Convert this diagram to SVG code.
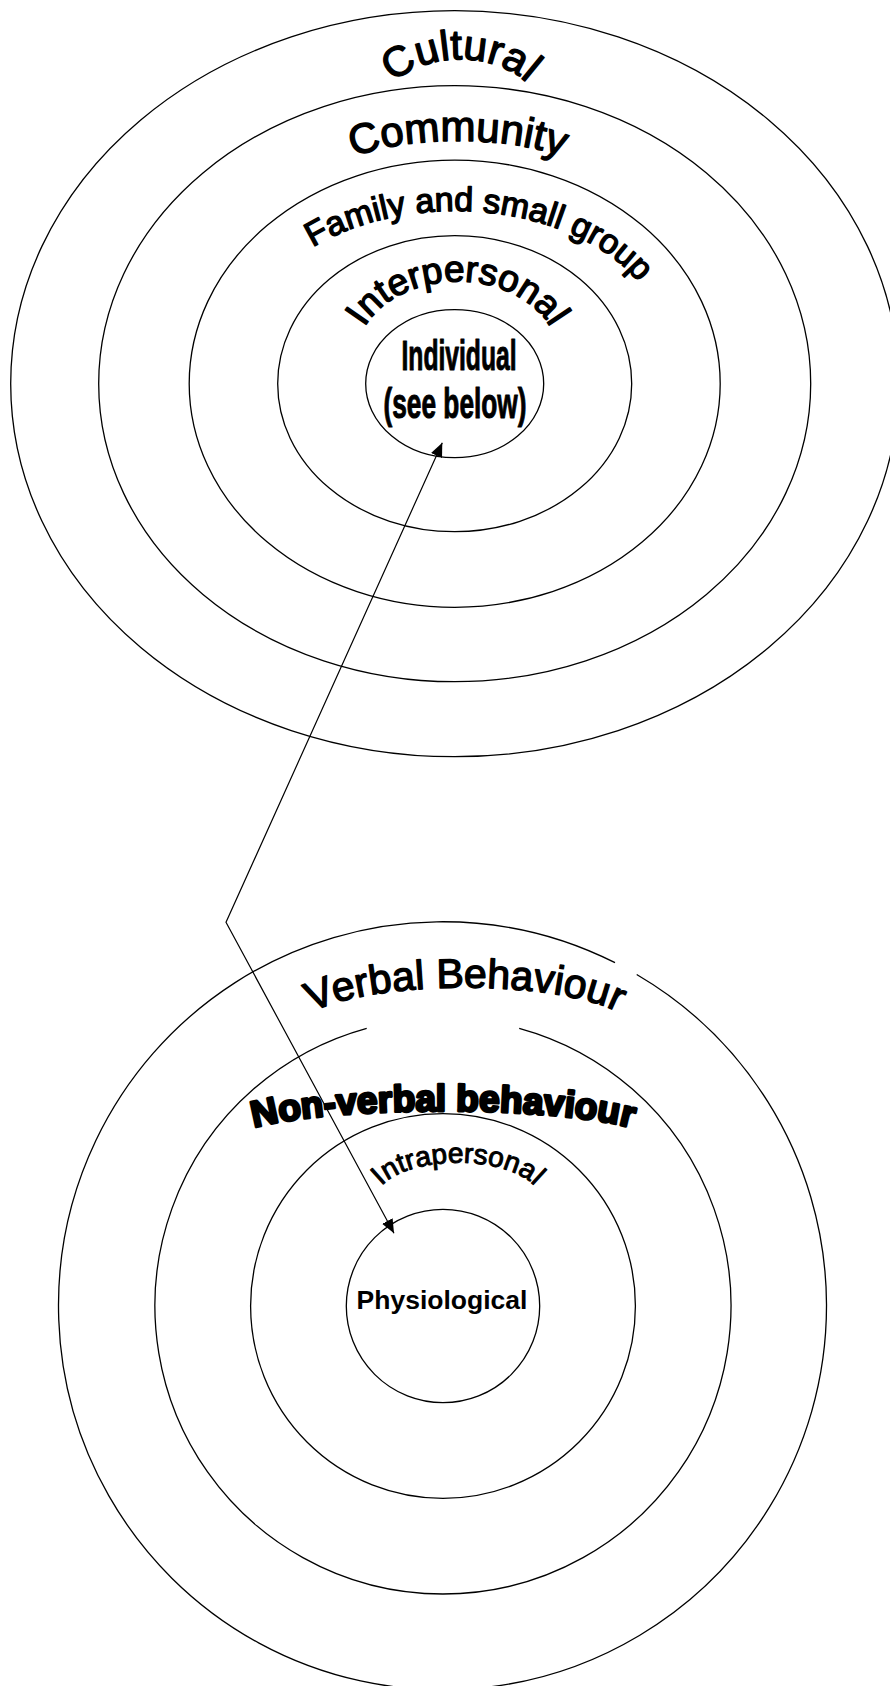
<svg xmlns="http://www.w3.org/2000/svg" width="890" height="1686" viewBox="0 0 890 1686">
  <style>
    .ring { fill: none; stroke: #000; stroke-width: 1.3; }
    .link { fill: none; stroke: #000; stroke-width: 1.2; }
    .arch { font-family: "Liberation Sans", Arial, sans-serif; fill: #000; stroke: #000; stroke-width: 1.4; stroke-linejoin: round; }
    .heavy { font-family: "Liberation Sans", Arial, sans-serif; font-weight: bold; fill: #000; stroke: #000; stroke-width: 2.8; stroke-linejoin: round; }
    .narrow { font-family: "Liberation Sans Narrow", "Liberation Sans", Arial, sans-serif; font-weight: bold; fill: #000; stroke: #000; stroke-width: 1; stroke-linejoin: round; }
    .plain { font-family: "Liberation Sans", Arial, sans-serif; font-weight: bold; fill: #000; }
  </style>
  <defs>
    <!-- baselines for the arched labels -->
    <path id="p-cultural" d="M 386 91 A 84 60 0 0 1 534 91"/>
    <path id="p-community" d="M 333 170 A 130 40 0 0 1 583 170"/>
    <path id="p-family" d="M 287.8 265.7 A 208 135 0 0 1 655 308.8"/>
    <path id="p-interpersonal" d="M 355.6 356 A 102 78 0 0 1 559.4 356"/>
    <path id="p-verbal" d="M 297.6 1026.1 A 168 42 0 0 1 632.4 1026.1"/>
    <path id="p-nonverbal" d="M 232.2 1137.4 A 214 32 0 0 1 653.8 1137.4"/>
    <path id="p-intrapersonal" d="M 375.3 1197.5 A 83 38 0 0 1 540.7 1197.5"/>
    <marker id="arrow" viewBox="0 0 14 12" refX="14" refY="6" markerWidth="14" markerHeight="12" markerUnits="userSpaceOnUse" orient="auto-start-reverse">
      <path d="M 0 0 L 14 6 L 0 12 z" fill="#000"/>
    </marker>
  </defs>

  <rect x="0" y="0" width="890" height="1686" fill="#fff"/>

  <!-- upper set: nested social levels -->
  <g id="cultural">
    <ellipse class="ring" cx="454.7" cy="383.7" rx="444" ry="373"/>
    <text class="arch" font-size="42"><textPath href="#p-cultural" startOffset="50%" text-anchor="middle">Cultural</textPath></text>
  </g>
  <g id="community">
    <ellipse class="ring" cx="454.7" cy="383.7" rx="356" ry="298"/>
    <text class="arch" font-size="42"><textPath href="#p-community" startOffset="50%" text-anchor="middle">Community</textPath></text>
  </g>
  <g id="family">
    <ellipse class="ring" cx="454.7" cy="383.7" rx="265.5" ry="223.6"/>
    <text class="arch" font-size="34"><textPath href="#p-family" startOffset="50%" text-anchor="middle">Family and small group</textPath></text>
  </g>
  <g id="interpersonal">
    <ellipse class="ring" cx="454.7" cy="383.7" rx="177" ry="148"/>
    <text class="arch" font-size="37"><textPath href="#p-interpersonal" startOffset="50%" text-anchor="middle">Interpersonal</textPath></text>
  </g>
  <g id="individual">
    <ellipse class="ring" cx="454.7" cy="383.7" rx="89" ry="74"/>
    <text class="narrow" font-size="42" x="459" y="370" text-anchor="middle" textLength="115" lengthAdjust="spacingAndGlyphs">Individual</text>
    <text class="narrow" font-size="42" x="455" y="418" text-anchor="middle" textLength="143" lengthAdjust="spacingAndGlyphs">(see below)</text>
  </g>

  <!-- lower set: levels within the individual -->
  <g id="verbal">
    <path class="ring" d="M 636.7 974.5 A 384 384 0 1 1 615 962.7"/>
    <text class="arch" font-size="41"><textPath href="#p-verbal" startOffset="50%" text-anchor="middle">Verbal Behaviour</textPath></text>
  </g>
  <g id="nonverbal">
    <path class="ring" d="M 519.2 1028.3 A 288 288 0 1 1 366.7 1028.3"/>
    <text class="heavy" font-size="37"><textPath href="#p-nonverbal" startOffset="50%" text-anchor="middle">Non-verbal behaviour</textPath></text>
  </g>
  <g id="intrapersonal">
    <circle class="ring" cx="443" cy="1306" r="192.4"/>
    <text class="arch" font-size="28" style="stroke-width:1"><textPath href="#p-intrapersonal" startOffset="50%" text-anchor="middle">Intrapersonal</textPath></text>
  </g>
  <g id="physiological">
    <circle class="ring" cx="443" cy="1306" r="96.7"/>
    <text class="plain" font-size="26.5" x="442" y="1309" text-anchor="middle">Physiological</text>
  </g>

  <!-- connector between the two sets -->
  <g id="connectors">
    <polyline class="link" points="442.3,442.7 226,922.3 394,1233.3" marker-start="url(#arrow)" marker-end="url(#arrow)"/>
  </g>
</svg>
